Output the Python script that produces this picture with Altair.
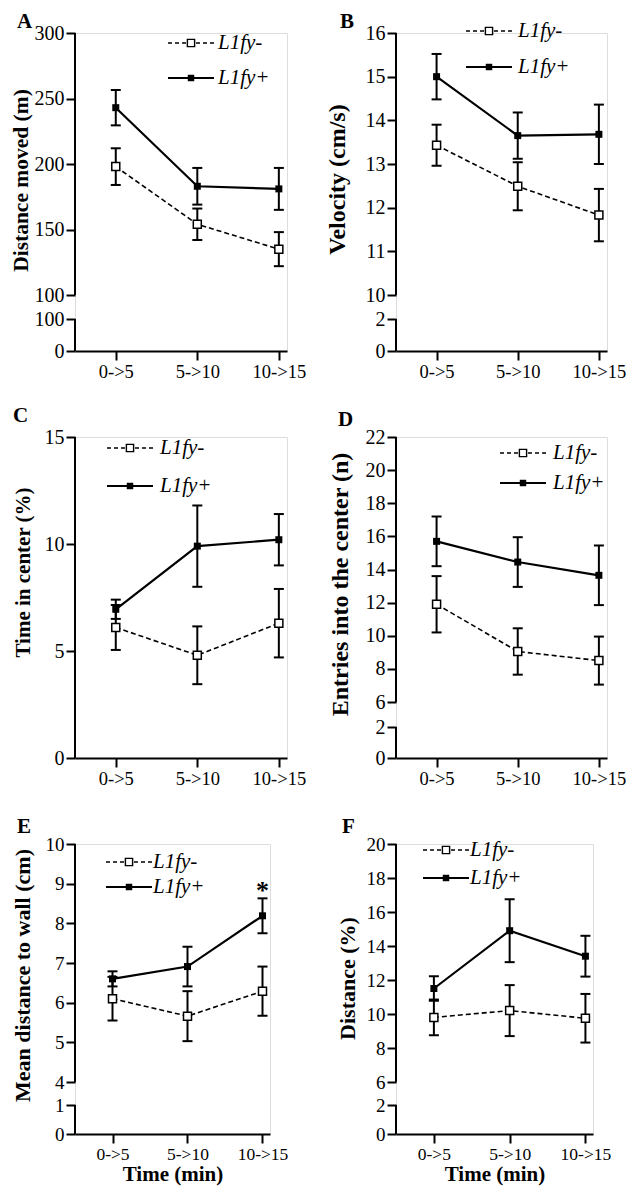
import json
import altair as alt
import pandas as pd

SERIF = "Liberation Serif"

categories = ["0->5", "5->10", "10->15"]
groups = ["L1fy-", "L1fy+"]

# Panel A: Distance moved (m)
A_minus = [198, 154, 135]
A_minus_se = [14, 12, 13]
A_plus = [243, 183, 181]
A_plus_se = [13.5, 14, 16]
A_upper_ticks = [100, 150, 200, 250, 300]
A_lower_ticks = [0, 100]

# Panel B: Velocity (cm/s)
B_minus = [13.43, 12.49, 11.83]
B_minus_se = [0.47, 0.55, 0.6]
B_plus = [15.0, 13.65, 13.68]
B_plus_se = [0.52, 0.53, 0.68]
B_upper_ticks = [10, 11, 12, 13, 14, 15, 16]
B_lower_ticks = [0, 2]

# Panel C: Time in center (%)
C_minus = [6.1, 4.8, 6.3]
C_minus_se = [1.05, 1.35, 1.6]
C_plus = [6.95, 9.9, 10.2]
C_plus_se = [0.45, 1.9, 1.2]
C_ticks = [0, 5, 10, 15]

# Panel D: Entries into the center (n)
D_minus = [11.9, 9.05, 8.5]
D_minus_se = [1.7, 1.4, 1.45]
D_plus = [15.7, 14.45, 13.65]
D_plus_se = [1.5, 1.5, 1.8]
D_upper_ticks = [6, 8, 10, 12, 14, 16, 18, 20, 22]
D_lower_ticks = [0, 2]

# Panel E: Mean distance to wall (cm)
E_minus = [6.1, 5.66, 6.29]
E_minus_se = [0.55, 0.63, 0.62]
E_plus = [6.6, 6.91, 8.19]
E_plus_se = [0.19, 0.5, 0.44]
E_upper_ticks = [4, 5, 6, 7, 8, 9, 10]
E_lower_ticks = [0, 1]
E_star_idx = [2]
E_star_val = [8.95]
E_star_text = ["*"]

# Panel F: Distance (%)
F_minus = [9.8, 10.2, 9.75]
F_minus_se = [1.05, 1.5, 1.43]
F_plus = [11.5, 14.9, 13.4]
F_plus_se = [0.72, 1.85, 1.2]
F_upper_ticks = [6, 8, 10, 12, 14, 16, 18, 20]
F_lower_ticks = [0, 2]

X_DOMAIN = [-0.5, 2.1]
LABEL_EXPR = json.dumps(categories) + "[datum.value]"


def make_df(minus, minus_se, plus, plus_se):
    rows = []
    for g, vals, ses in ((groups[0], minus, minus_se), (groups[1], plus, plus_se)):
        for i, (v, s) in enumerate(zip(vals, ses)):
            rows.append({"idx": i, "group": g, "mean": v, "lo": v - s, "hi": v + s})
    return pd.DataFrame(rows)


def common_axis(lsize):
    return dict(tickSize=9, tickWidth=2, domainWidth=2, labelFontSize=lsize,
                labelPadding=2, labelOverlap=False, labelFlush=False, grid=False,
                labelFont=SERIF, labelColor="black", domainColor="black", tickColor="black")


def x_axis(xtitle, lsize):
    kw = common_axis(lsize)
    if xtitle is not None:
        return alt.Axis(values=[0, 1, 2], labelExpr=LABEL_EXPR, title=xtitle,
                        titleFont=SERIF, titleFontSize=21, titleFontWeight="bold",
                        titleColor="black", titlePadding=1, **kw)
    return alt.Axis(values=[0, 1, 2], labelExpr=LABEL_EXPR, title=None, **kw)


def legend_layers(lx, ly, ldy, tx):
    out = []
    one = pd.DataFrame({"k": [0]})
    for j, g in enumerate(groups):
        y = ly + j * ldy
        if j == 0:
            line = alt.Chart(one).mark_rule(color="black", strokeWidth=1.6, strokeDash=[4, 3])
            sq = alt.Chart(one).mark_square(size=52, filled=True, fill="white", stroke="black",
                                            strokeWidth=1.4, opacity=1)
        else:
            line = alt.Chart(one).mark_rule(color="black", strokeWidth=2)
            sq = alt.Chart(one).mark_square(size=42, color="black", opacity=1)
        out.append(line.encode(x=alt.value(lx), x2=alt.value(lx + 46), y=alt.value(y)))
        out.append(sq.encode(x=alt.value(lx + 23), y=alt.value(y)))
        out.append(alt.Chart(pd.DataFrame({"t": [g]})).mark_text(
            align="left", baseline="middle", font=SERIF, fontStyle="italic", fontSize=21,
            color="black").encode(text="t:N", x=alt.value(tx), y=alt.value(y)))
    return out


def panel(letter, df, w, hu, up_ticks, ytitle, tsize, tx, ty, legend, letter_pos,
          low_ticks=None, hl=0, gap=0, xtitle=None, lsize=20, xsize=18.5, star=None):
    xscale = alt.Scale(domain=X_DOMAIN, nice=False, zero=False)
    if low_ticks is None:
        H = hu
        domain = [up_ticks[0], up_ticks[-1]]
        rng = [H, 0]
        tick_vals = list(up_ticks)
        segs = [(up_ticks[0], up_ticks[-1])]
    else:
        H = hu + gap + hl
        low_top = low_ticks[-1]
        if low_top >= up_ticks[0]:
            low_top = up_ticks[0] - 1e-6
        domain = [low_ticks[0], low_top, up_ticks[0], up_ticks[-1]]
        rng = [H, H - hl, hu, 0]
        tick_vals = list(low_ticks[:-1]) + [low_top] + list(up_ticks)
        segs = [(low_ticks[0], low_top), (up_ticks[0], up_ticks[-1])]
    yscale = alt.Scale(domain=domain, range=rng, nice=False, zero=False, clamp=False)
    yax = alt.Axis(values=tick_vals, labelExpr="round(datum.value)", domain=False,
                   title=ytitle, titleFont=SERIF, titleFontSize=tsize,
                   titleFontWeight="bold", titleColor="black", titleX=tx, titleY=ty,
                   titleAngle=-90, titleBaseline="bottom", titleAlign="center",
                   **common_axis(lsize))
    X = alt.X("idx:Q", scale=xscale, axis=x_axis(xtitle, xsize))

    def Y(f):
        return alt.Y(f, scale=yscale, axis=yax)

    seg_df = pd.DataFrame({"idx": [X_DOMAIN[0]] * len(segs),
                           "lo": [s[0] for s in segs], "hi": [s[1] for s in segs]})
    base = alt.Chart(df)
    is_minus = alt.datum.group == groups[0]
    is_plus = alt.datum.group == groups[1]
    layers = [
        alt.Chart(seg_df).mark_rule(color="black", strokeWidth=2).encode(
            x=X, y=Y("lo:Q"), y2="hi:Q"),
        base.mark_rule(color="black", strokeWidth=2).encode(x=X, y=Y("lo:Q"), y2="hi:Q"),
        base.mark_rule(color="black", strokeWidth=2, xOffset=-5, x2Offset=5).encode(
            x=X, x2="idx:Q", y=Y("lo:Q")),
        base.mark_rule(color="black", strokeWidth=2, xOffset=-5, x2Offset=5).encode(
            x=X, x2="idx:Q", y=Y("hi:Q")),
        base.transform_filter(is_minus).mark_line(color="black", strokeWidth=1.6,
                                                  strokeDash=[5, 3]).encode(x=X, y=Y("mean:Q")),
        base.transform_filter(is_plus).mark_line(color="black", strokeWidth=2.2).encode(
            x=X, y=Y("mean:Q")),
        base.transform_filter(is_minus).mark_square(size=64, filled=True, fill="white",
                                                    stroke="black", strokeWidth=1.5,
                                                    opacity=1).encode(x=X, y=Y("mean:Q")),
        base.transform_filter(is_plus).mark_square(size=49, color="black", opacity=1).encode(
            x=X, y=Y("mean:Q")),
    ]
    if star is not None:
        sdf = pd.DataFrame({"idx": star[0], "v": star[1], "t": star[2]})
        layers.append(alt.Chart(sdf).mark_text(font=SERIF, fontSize=26, fontWeight="bold",
                                               baseline="alphabetic", dy=13, color="black").encode(
            x=X, y=Y("v:Q"), text="t:N"))
    layers += legend_layers(*legend)
    layers.append(alt.Chart(pd.DataFrame({"t": [letter]})).mark_text(
        align="left", baseline="alphabetic", font=SERIF, fontSize=21, fontWeight="bold",
        color="black").encode(text="t:N", x=alt.value(letter_pos[0]), y=alt.value(letter_pos[1])))
    return alt.layer(*layers).properties(width=w, height=H)


pA = panel("A", make_df(A_minus, A_minus_se, A_plus, A_plus_se), 212, 262, A_upper_ticks,
           "Distance moved (m)", 21.5, -43, 147, (93, 10, 35, 143), (-58, -5),
           low_ticks=A_lower_ticks, hl=32, gap=24)
pB = panel("B", make_df(B_minus, B_minus_se, B_plus, B_plus_se), 211, 262, B_upper_ticks,
           "Velocity (cm/s)", 24, -47, 146, (70, -2, 36, 122), (-56, -5),
           low_ticks=B_lower_ticks, hl=32, gap=24)
pC = panel("C", make_df(C_minus, C_minus_se, C_plus, C_plus_se), 212, 321, C_ticks,
           "Time in center (%)", 21, -42, 135, (32, 11, 38, 85), (-62, -15))
pD = panel("D", make_df(D_minus, D_minus_se, D_plus, D_plus_se), 211, 265, D_upper_ticks,
           "Entries into the center (n)", 24, -44, 147, (104, 16, 30, 157), (-58, -11),
           low_ticks=D_lower_ticks, hl=31, gap=25)
pE = panel("E", make_df(E_minus, E_minus_se, E_plus, E_plus_se), 195, 238, E_upper_ticks,
           "Mean distance to wall (cm)", 22, -41, 131, (31, 18, 25, 78), (-58, -11),
           low_ticks=E_lower_ticks, hl=29, gap=23, xtitle="Time (min)", lsize=19, xsize=17.5,
           star=(E_star_idx, E_star_val, E_star_text))
pF = panel("F", make_df(F_minus, F_minus_se, F_plus, F_plus_se), 197, 238, F_upper_ticks,
           "Distance (%)", 22, -37, 134, (27, 6, 28, 74), (-54, -11),
           low_ticks=F_lower_ticks, hl=29, gap=23, xtitle="Time (min)", lsize=19, xsize=17.5)

chart = alt.concat(pA, pB, pC, pD, pE, pF, columns=2, bounds="flush",
                   spacing={"row": 86, "column": 109}).properties(
    autosize=alt.AutoSizeParams(type="none"),
    padding={"left": 67, "top": 25, "right": 551, "bottom": 1153}
).configure_view(stroke="transparent").configure(background="white")

chart.save("out.html", embed_options={"renderer": "svg", "actions": False})
